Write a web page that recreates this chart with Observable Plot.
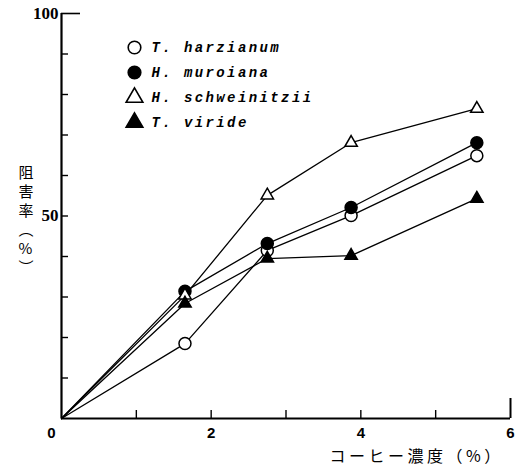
<!DOCTYPE html>
<html><head><meta charset="utf-8">
<script src="https://cdn.jsdelivr.net/npm/d3@7"></script>
<script src="https://cdn.jsdelivr.net/npm/@observablehq/plot@0.6"></script>
<style>
body{margin:0;background:#fff;}
svg{background:#fff;}
</style>
</head><body><div id="chart"></div>
<script>
// ---- data ----
const concentrations = [0, 1.65, 2.75, 3.87, 5.55];
const seriesNames = ["T. harzianum", "H. muroiana", "H. schweinitzii", "T. viride"];
const harzianum = [0, 18.5, 41.5, 50.1, 64.9];
const muroiana = [0, 31.4, 43.2, 52.1, 68.1];
const schweinitzii = [0, 30.4, 55.1, 68.1, 76.5];
const viride = [0, 28.4, 39.5, 40.2, 54.3];
const yTicks = [10, 20, 30, 40, 50, 60, 70, 80, 90];
const yTopTick = [100];
const yTickLabels = [50, 100];
const xTicks = [1, 2, 3, 4, 5];
const xEndTick = [6];
const xTickLabels = [2, 4, 6];
const xOriginLabel = [0];
const yTitleChars = ["阻", "害", "率", "︵", "%", "︶"];
const xTitle = "コーヒー濃度（%）";

// ---- styles ----
const symbols = ["circle", "circle", "triangle", "triangle"];
const fills = ["white", "black", "white", "black"];

const allValues = [harzianum, muroiana, schweinitzii, viride];
const rows = [];
seriesNames.forEach((name, i) => {
  concentrations.forEach((c, j) => rows.push({series: name, idx: i, x: c, y: allValues[i][j]}));
});

const marks = [
  Plot.ruleX([0], {y1: 0, y2: 100, strokeWidth: 2.2}),
  Plot.ruleY([0], {x1: 0, x2: 6, strokeWidth: 2.2}),
  Plot.axisY(yTicks, {tickSize: -7, tickFormat: () => "", label: null, strokeWidth: 1.4}),
  Plot.axisY(yTopTick, {tickSize: -19, tickFormat: () => "", label: null, strokeWidth: 1.6}),
  Plot.axisY(yTickLabels, {tickSize: 0, tickPadding: 3, label: null, fontSize: 17, fontFamily: "Liberation Serif", fontWeight: "bold"}),
  Plot.axisX(xTicks, {tickSize: -8, tickFormat: () => "", label: null, strokeWidth: 1.4}),
  Plot.axisX(xEndTick, {tickSize: -20, tickFormat: () => "", label: null, strokeWidth: 2}),
  Plot.text(xTickLabels, {x: d => d, text: d => String(d), frameAnchor: "bottom", dy: 15, fontSize: 15, fontFamily: "Liberation Sans", fontWeight: "bold", lineAnchor: "middle"}),
  Plot.text(xOriginLabel, {x: d => d, text: d => String(d), frameAnchor: "bottom", dy: 15, dx: -10, fontSize: 15, fontFamily: "Liberation Sans", fontWeight: "bold", lineAnchor: "middle"}),
  Plot.line(rows, {x: "x", y: "y", z: "series", stroke: "black", strokeWidth: 1.3})
];

// vertical y title, one character per row
yTitleChars.forEach((ch, k) => {
  marks.push(Plot.text([ch], {text: d => d, frameAnchor: "top-left", dx: -43, dy: 160 + k * 19, fontSize: 15, fontFamily: "Noto Sans CJK JP", lineAnchor: "middle"}));
});
marks.push(Plot.text([xTitle], {text: d => d, frameAnchor: "bottom-left", dx: 268, dy: 38, textAnchor: "start", lineAnchor: "middle", fontSize: 16, fontFamily: "Noto Sans CJK JP"}));

seriesNames.forEach((name, i) => {
  const pts = rows.filter(d => d.series === name && d.x > 0);
  const isTri = symbols[i] === "triangle";
  marks.push(Plot.dot(pts, {x: "x", y: "y", symbol: () => symbols[i], r: isTri ? 4.6 : 6, fill: fills[i], stroke: "black", strokeWidth: 1.5}));
  marks.push(Plot.dot([name], {frameAnchor: "top-left", dx: 73, dy: 34 + i * 25, symbol: () => symbols[i], r: isTri ? 6.2 : 6.3, fill: fills[i], stroke: "black", strokeWidth: 1.6}));
  marks.push(Plot.text([name], {text: d => d, frameAnchor: "top-left", dx: 90, dy: 34 + i * 25, textAnchor: "start", lineAnchor: "middle", fontSize: 14, fontFamily: "Liberation Mono", fontStyle: "italic", fontWeight: "bold"}));
});

const chart = Plot.plot({
  width: 516, height: 468,
  marginLeft: 61, marginRight: 6, marginTop: 13, marginBottom: 50,
  x: {domain: [0, 6]},
  y: {domain: [0, 100]},
  symbol: {type: "identity"},
  style: {background: "white", color: "black"},
  marks
});
document.getElementById("chart").appendChild(chart);
d3.select(chart).selectAll("text")
  .filter(function() { return seriesNames.includes(this.textContent); })
  .style("letter-spacing", "2.4px");
d3.select(chart).selectAll("text")
  .filter(function() { return this.textContent === xTitle; })
  .style("letter-spacing", "3.5px");
</script>
</body></html>
